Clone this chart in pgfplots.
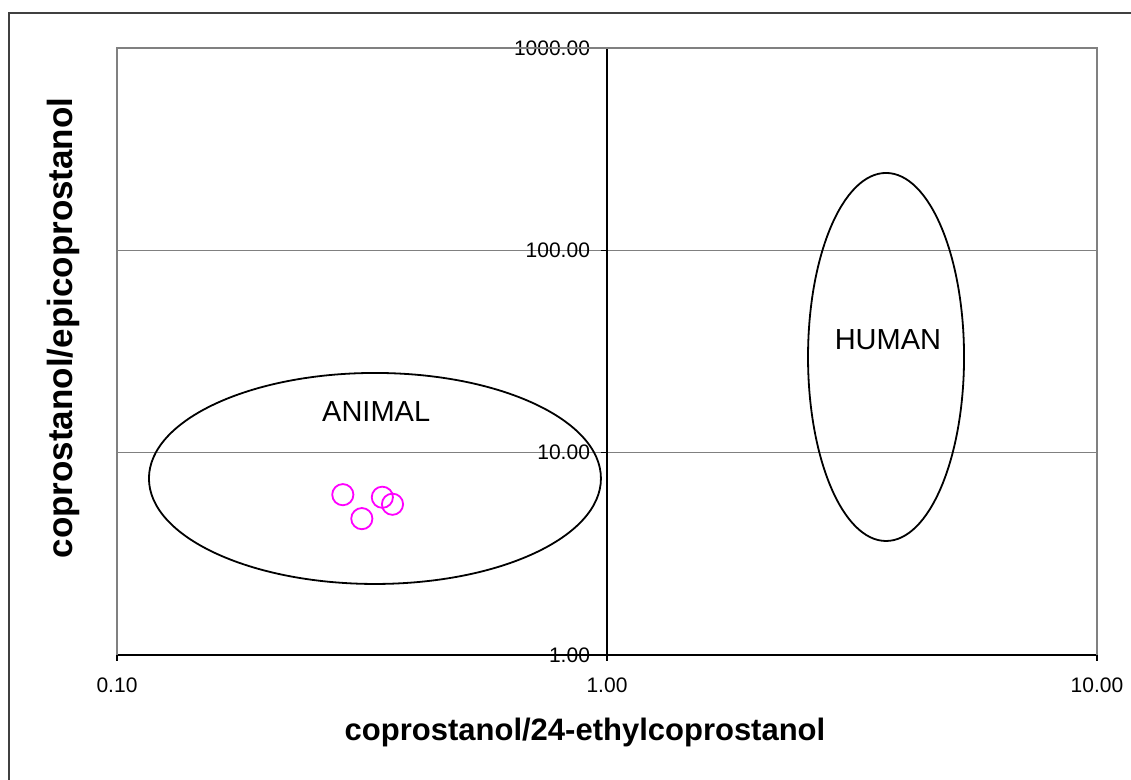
\documentclass[border=0pt]{standalone}
\usepackage{fontspec}
\setmainfont{Liberation Sans}
\usepackage{pgfplots}
\pgfplotsset{compat=1.18}
\usetikzlibrary{calc}
\definecolor{mag}{RGB}{255,0,255}
\definecolor{gridgray}{RGB}{128,128,128}
\definecolor{framegray}{RGB}{64,64,64}
\begin{document}
\begin{tikzpicture}
\clip (0,0) rectangle (565.5pt,390pt);
\fill[white] (0,0) rectangle (565.5pt,390pt);
\draw[framegray, line width=1pt] (4.25pt,-10pt) rectangle (580pt,383.25pt);
\begin{axis}[
  at={(58.5pt,62.5pt)}, anchor=south west,
  scale only axis, width=490pt, height=303.5pt,
  xmode=log, ymode=log,
  xmin=0.1, xmax=10, ymin=1, ymax=1000,
  axis x line=bottom, axis y line=middle,
  hide obscured x ticks=false, hide obscured y ticks=false,
  axis line style={-, black, line width=0.6pt},
  xtick={0.1,1,10}, ytick={1,10,100,1000},
  xminorticks=false, yminorticks=false,
  minor xtick={}, minor ytick={},
  xticklabel={\pgfmathparse{10^round(\tick/2.302585093)}\pgfmathprintnumber[fixed,fixed zerofill,precision=2,1000 sep={},assume math mode=true]{\pgfmathresult}},
  yticklabel={\pgfmathparse{10^round(\tick/2.302585093)}\pgfmathprintnumber[fixed,fixed zerofill,precision=2,1000 sep={},assume math mode=true]{\pgfmathresult}},
  tick style={black, line width=0.6pt},
  tick align=outside,
  major tick length=3pt,
  ymajorgrids, grid style={gridgray, line width=0.6pt},
  tick label style={font=\fontsize{10.5}{12}\selectfont},
  xticklabel style={yshift=-5pt},
  yticklabel style={anchor=east, xshift=-2pt},
  clip=false,
]
\draw[gridgray, line width=0.6pt] (rel axis cs:0,0) -- (rel axis cs:0,1) -- (rel axis cs:1,1) -- (rel axis cs:1,0);
\addplot[only marks, mark=o, mark size=5.3pt, mag, mark options={line width=0.9pt}] coordinates {
  (0.289,6.20) (0.316,4.72) (0.348,6.02) (0.365,5.56)
};
\draw[black, line width=0.9pt] let \p1=(axis cs:0.1162,2.244), \p2=(axis cs:0.972,24.77) in
  ({(\x1+\x2)/2},{(\y1+\y2)/2}) ellipse [x radius={(\x2-\x1)/2}, y radius={(\y2-\y1)/2}];
\draw[black, line width=0.9pt] let \p1=(axis cs:2.572,3.66), \p2=(axis cs:5.354,241.2) in
  ({(\x1+\x2)/2},{(\y1+\y2)/2}) ellipse [x radius={(\x2-\x1)/2}, y radius={(\y2-\y1)/2}];
\node[font=\fontsize{14.5}{17}\selectfont] at (axis cs:0.338,15.9) {ANIMAL};
\node[font=\fontsize{14.5}{17}\selectfont] at (axis cs:3.745,36.1) {HUMAN};
\end{axis}
\node[font=\bfseries\fontsize{15.5}{18}\selectfont] at (292.5pt,24pt) {coprostanol/24-ethylcoprostanol};
\node[font=\bfseries\fontsize{17.5}{20}\selectfont, rotate=90] at (31.5pt,226pt) {coprostanol/epicoprostanol};
\end{tikzpicture}
\end{document}
